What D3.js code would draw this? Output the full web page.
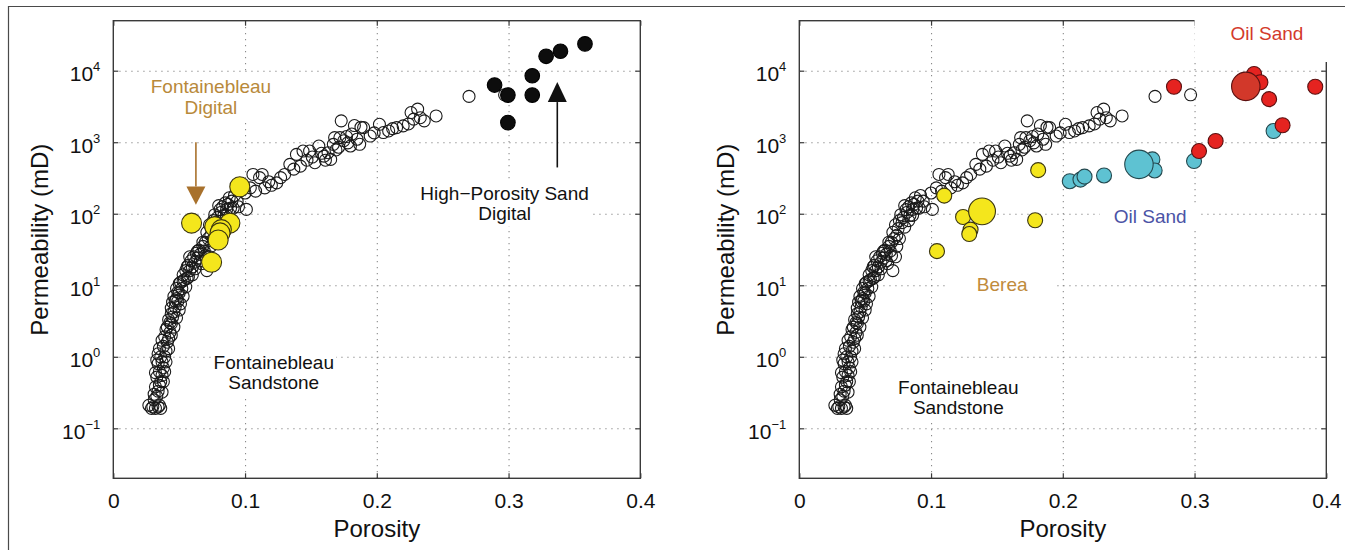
<!DOCTYPE html>
<html>
<head>
<meta charset="utf-8">
<script src="https://cdn.jsdelivr.net/npm/d3@7"></script>
<style>
body { margin: 0; background: #fff; }
svg { font-family: "Liberation Sans", Arial, sans-serif; }
</style>
</head>
<body>
<div id="chart"></div>
<script>
// [porosity, permeability mD]
var fontainebleau = [
 [0.027,0.21],[0.029,0.19],[0.030,0.20],[0.032,0.19],[0.034,0.20],[0.035,0.21],[0.036,0.19],[0.031,0.25],
 [0.033,0.28],[0.034,0.33],[0.032,0.38],[0.035,0.40],[0.036,0.45],[0.033,0.52],[0.037,0.55],[0.035,0.62],
 [0.038,0.70],[0.034,0.80],[0.037,0.85],[0.036,1.0],[0.034,1.1],[0.039,1.0],[0.040,1.2],[0.038,1.4],
 [0.041,1.6],[0.039,1.9],[0.042,1.8],[0.043,2.2],[0.041,2.6],[0.044,2.9],[0.042,3.3],[0.045,3.6],
 [0.046,4.2],[0.044,4.8],[0.047,5.0],[0.045,5.8],[0.048,6.5],[0.046,7.0],[0.049,6.0],[0.050,7.8],
 [0.048,9.0],[0.052,9.0],[0.051,11],[0.054,12],[0.053,14],[0.056,12.5],[0.055,16],[0.058,16],
 [0.057,19],[0.060,18],[0.059,22],[0.062,21],[0.061,25],[0.064,24],[0.063,28],[0.066,27],
 [0.065,31],[0.067,20],[0.068,35],[0.069,30],[0.071,16],[0.070,40],[0.072,45],[0.073,25],
 [0.071,55],[0.074,50],[0.075,62],[0.073,70],[0.076,80],[0.077,97],[0.078,75],[0.079,88],
 [0.081,114],[0.080,130],[0.082,105],[0.083,125],[0.085,142],[0.084,95],[0.086,115],[0.088,167],
 [0.087,135],[0.090,150],[0.089,120],[0.092,180],[0.094,150],[0.100,195],[0.101,115],[0.104,230],
 [0.106,354],[0.108,207],[0.111,320],[0.113,354],[0.115,230],[0.118,280],[0.120,250],[0.124,270],
 [0.127,320],[0.130,354],[0.134,490],[0.137,420],[0.139,676],[0.142,463],[0.144,752],[0.147,560],
 [0.149,752],[0.151,620],[0.153,517],[0.156,885],[0.158,700],[0.160,640],[0.161,560],[0.163,714],
 [0.165,575],[0.167,933],[0.168,1160],[0.169,780],[0.171,850],[0.172,1160],[0.173,1990],[0.175,1050],
 [0.177,1200],[0.178,980],[0.180,885],[0.181,1300],[0.183,1710],[0.185,1100],[0.187,935],[0.188,1620],
 [0.190,1600],[0.195,1220],[0.198,1350],[0.202,1780],[0.205,1364],[0.209,1436],[0.212,1550],[0.215,1600],
 [0.220,1690],[0.224,1800],[0.226,2600],[0.228,2100],[0.231,2900],[0.233,2200],[0.236,1990],[0.245,2330],
 [0.270,4370],[0.297,4600],
 [0.031,0.30],[0.037,0.32],[0.038,0.45],[0.032,0.60],[0.039,0.62],[0.033,0.90],[0.040,0.85],[0.035,1.3],
 [0.042,1.3],[0.037,1.7],[0.044,2.0],[0.040,2.4],[0.046,2.6],[0.043,3.0],[0.048,3.5],[0.044,4.0],
 [0.050,4.5],[0.047,6.0],[0.051,5.5],[0.049,8.0],[0.053,7.0],[0.050,10.5],[0.055,9.5],[0.053,11.5],
 [0.057,13],[0.056,18],[0.060,14],[0.058,25],[0.062,17],[0.064,30],[0.066,22],[0.068,40],
 [0.070,26],[0.074,35],[0.076,45],[0.080,65],[0.083,80],[0.086,95],[0.091,120],[0.095,125]
];
var fontDigital = [[0.0594,74],[0.096,238],[0.0885,74],[0.077,66],[0.082,60],[0.081,54],[0.0796,43],[0.0746,21]];
var highPorDigital = [[0.2894,6300],[0.2995,4560],[0.2995,1880],[0.318,8500],[0.318,4560],[0.3285,15900],[0.3394,18700],[0.358,23700]];

var berea = [[0.110,179],[0.1243,90],[0.130,60],[0.129,52],[0.1045,30],[0.1813,407],[0.179,81],[0.1387,108]];
var bereaSize = [1,1,1,1,1,1,1,3.2];
var oilSandBlue = [[0.2053,285],[0.2134,300],[0.2165,330],[0.2313,343],[0.268,575],[0.2697,403],[0.2996,545],[0.360,1436],[0.2578,490]];
var oilSandBlueSize = [1,1,1,1,1,1,1,1,3.6];
var oilSandRed = [[0.2844,5960],[0.3034,752],[0.316,1040],[0.3452,9000],[0.350,6900],[0.3566,4000],[0.3668,1726],[0.3916,5960],[0.3389,6030]];
var oilSandRedSize = [1,1,1,1,1,1,1,1,3.6];

var xTicks = [0, 0.1, 0.2, 0.3, 0.4];
var yTicks = [0.1, 1, 10, 100, 1000, 10000];
var yExp = ["\u22121", "0", "1", "2", "3", "4"];

var W = 1345, H = 550;
var pw = 527, ph = 457.6;

var svg = d3.select("#chart").append("svg")
  .attr("width", W)
  .attr("height", H);

var x = d3.scaleLinear().domain([0, 0.4]).range([0, pw]);
var y = d3.scaleLog().domain([0.02, 50000]).range([ph, 0]);
var r = d3.scaleSqrt().domain([0, 1]).range([0, 7.5]);

function drawPanel(left, top) {
  var g = svg.append("g").attr("transform", "translate(" + left + "," + top + ")");

  // dotted grid
  g.append("g").attr("class", "grid")
    .attr("transform", "translate(0," + ph + ")")
    .call(d3.axisBottom(x).tickValues(xTicks.slice(1, 4)).tickSize(-ph).tickFormat(""));
  g.append("g").attr("class", "grid")
    .call(d3.axisLeft(y).tickValues(yTicks).tickSize(-pw).tickFormat(""));
  g.selectAll(".grid .domain").remove();
  g.selectAll(".grid line")
    .attr("stroke", "#8a8a8a")
    .attr("stroke-width", 1.1)
    .attr("stroke-dasharray", "1.3,4.7");

  // frame + inward ticks
  g.append("rect")
    .attr("width", pw).attr("height", ph)
    .attr("fill", "none").attr("stroke", "#3a3a3a").attr("stroke-width", 1.4);

  var xa = g.append("g")
    .attr("transform", "translate(0," + ph + ")")
    .call(d3.axisBottom(x).tickValues(xTicks).tickSize(-5).tickPadding(15).tickFormat(d3.format("")));
  xa.selectAll("text").attr("font-size", 21).attr("fill", "#111").attr("font-family", null);
  g.append("g").call(d3.axisTop(x).tickValues(xTicks).tickSize(-5).tickFormat(""));
  var ya = g.append("g").call(d3.axisLeft(y).tickValues(yTicks).tickSize(-5).tickFormat(""));
  g.append("g").attr("transform", "translate(" + pw + ",0)")
    .call(d3.axisRight(y).tickValues(yTicks).tickSize(-5).tickFormat(""));
  g.selectAll(".domain").remove();
  g.selectAll(".tick line").filter(function() { return !this.closest(".grid"); })
    .attr("stroke", "#3a3a3a").attr("stroke-width", 1.2);

  ya.selectAll(".tick").each(function(d, i) {
    var t = d3.select(this).append("text")
      .attr("x", -13).attr("y", 10)
      .attr("text-anchor", "end")
      .attr("fill", "#111");
    t.append("tspan").attr("font-size", 21).text("10");
    t.append("tspan").attr("font-size", 13).attr("dy", -10).text(yExp[i]);
  });

  g.append("text")
    .attr("transform", "translate(-65," + 219 + ") rotate(-90)")
    .attr("text-anchor", "middle")
    .attr("font-size", 24)
    .attr("fill", "#111")
    .text("Permeability (mD)");
  g.append("text")
    .attr("x", pw / 2).attr("y", ph + 58.5)
    .attr("text-anchor", "middle")
    .attr("font-size", 24)
    .attr("fill", "#111")
    .text("Porosity");

  return g;
}

function dots(g, data, sizes, rad, fill, stroke) {
  g.append("g").selectAll("circle")
    .data(data)
    .enter().append("circle")
    .attr("cx", function(d) { return x(d[0]); })
    .attr("cy", function(d) { return y(d[1]); })
    .attr("r", function(d, i) { return sizes ? r(sizes[i]) : rad; })
    .attr("fill", fill)
    .attr("stroke", stroke)
    .attr("stroke-width", 1.1);
}

function label(g, lines, phi, k, color, padX) {
  var lg = g.append("g");
  lines.forEach(function(s, i) {
    lg.append("text")
      .attr("x", x(phi)).attr("y", y(k) + i * 20.5)
      .attr("text-anchor", "middle")
      .attr("font-size", 19)
      .attr("fill", color)
      .text(s);
  });
  var bb = lg.node().getBBox();
  lg.insert("rect", "text")
    .attr("x", bb.x - padX).attr("y", bb.y - 2)
    .attr("width", bb.width + 2 * padX).attr("height", bb.height + 4)
    .attr("fill", "#fff");
  return lg;
}

function arrow(g, phi, k0, kBase, kTip, color) {
  g.append("line")
    .attr("x1", x(phi)).attr("x2", x(phi))
    .attr("y1", y(k0)).attr("y2", y(kBase))
    .attr("stroke", color).attr("stroke-width", 1.6);
  g.append("path")
    .attr("d", "M" + (x(phi) - 9.5) + "," + y(kBase) + "L" + (x(phi) + 9.5) + "," + y(kBase) + "L" + x(phi) + "," + y(kTip) + "Z")
    .attr("fill", color);
}

// left panel
var g1 = drawPanel(113.3, 20.7);
label(g1, ["Fontainebleau", "Digital"], 0.0741, 4860, "#b8893a", 3);
label(g1, ["High\u2212Porosity Sand", "Digital"], 0.297, 158, "#111", 3);
label(g1, ["Fontainebleau", "Sandstone"], 0.1218, 0.68, "#111", 2);
arrow(g1, 0.0627, 1000, 240, 134, "#a8712c");
arrow(g1, 0.337, 444, 3640, 6940, "#111");
dots(g1, fontainebleau, null, 6, "none", "#1a1a1a");
dots(g1, fontDigital, null, 10, "#f4e61c", "#3a3510");
dots(g1, highPorDigital, null, 7.3, "#0d0d0d", "#000");

// right panel
var g2 = drawPanel(799.3, 20.7);
label(g2, ["Fontainebleau", "Sandstone"], 0.1207, 0.304, "#111", 2);
label(g2, ["Berea"], 0.154, 8.4, "#c08b3c", 28);
label(g2, ["Oil Sand"], 0.2663, 74, "#4b53a6", 14);
dots(g2, fontainebleau, null, 6, "none", "#1a1a1a");
dots(g2, berea, bereaSize, null, "#f4e61c", "#3a3510");
dots(g2, oilSandBlue, oilSandBlueSize, null, "#5ec2d2", "#24484e");
dots(g2, oilSandRed, oilSandRedSize, null, "#e52320", "#5a1010");
g2.selectAll("circle").filter(function(d, i) { return d === oilSandRed[8]; }).attr("fill", "#d2382a");

// red label sits in a white box over the top-right corner of the frame
var red = g2.append("g");
red.append("rect")
  .attr("x", x(0.3)).attr("y", -30)
  .attr("width", 200).attr("height", 71.3)
  .attr("fill", "#fff");
red.append("text")
  .attr("x", x(0.355)).attr("y", y(27200))
  .attr("text-anchor", "middle")
  .attr("font-size", 19)
  .attr("fill", "#d33a2b")
  .text("Oil Sand");

// page frame
svg.append("path")
  .attr("d", "M8.5," + H + "V6.5H" + W)
  .attr("fill", "none")
  .attr("stroke", "#4a4a4a")
  .attr("stroke-width", 1.2);
</script>
</body>
</html>
